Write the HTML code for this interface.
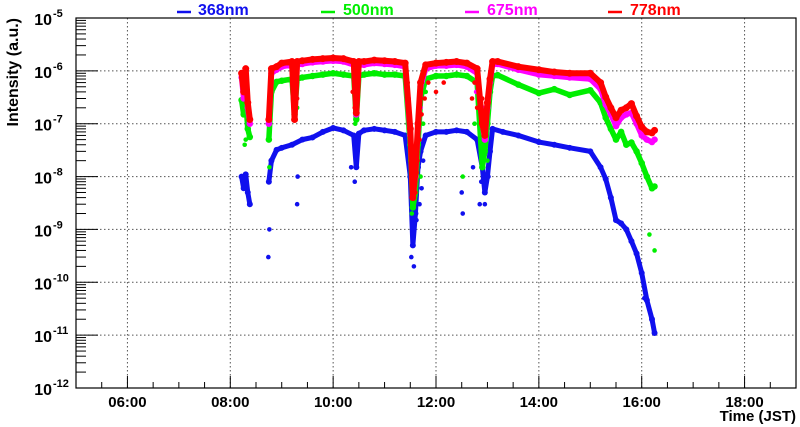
<!DOCTYPE html>
<html><head><meta charset="utf-8"><style>
html,body{margin:0;padding:0;background:#fff;}
svg{display:block;font-family:"Liberation Sans",sans-serif;}
</style></head><body>
<svg id="chart" width="800" height="427" viewBox="0 0 800 427">
<rect x="0" y="0" width="800" height="427" fill="#fff"/>
<g id="grid"></g>
<g id="series"></g>
<g id="axes"></g>
<g id="legend">
  <line x1="177" y1="12" x2="191" y2="12" stroke="#1010ee" stroke-width="2.5"/>
  <text x="198" y="15" fill="#1010ee" font-size="16" font-weight="bold">368nm</text>
  <line x1="321" y1="12" x2="335" y2="12" stroke="#00ee00" stroke-width="2.5"/>
  <text x="343" y="15" fill="#00ee00" font-size="16" font-weight="bold">500nm</text>
  <line x1="465" y1="12" x2="479" y2="12" stroke="#ff00ff" stroke-width="2.5"/>
  <text x="487" y="15" fill="#ff00ff" font-size="16" font-weight="bold">675nm</text>
  <line x1="608" y1="12" x2="622" y2="12" stroke="#ff0000" stroke-width="2.5"/>
  <text x="630" y="15" fill="#ff0000" font-size="16" font-weight="bold">778nm</text>
</g>
</svg>
<script>
// ---- data (time in hours JST, intensity in a.u.) ----
const xTickLabels = ["06:00","08:00","10:00","12:00","14:00","16:00","18:00"];
const xTickHours = [6,8,10,12,14,16,18];
const yTickExps = [-5,-6,-7,-8,-9,-10,-11,-12];

const blueT = [8.22,8.26,8.30,8.34,8.38,null,8.75,8.80,8.90,9.00,9.20,9.40,9.60,9.80,10.0,10.2,10.4,10.45,10.5,10.6,10.8,11.0,11.2,11.4,11.5,11.55,11.6,11.65,11.7,11.8,12.0,12.2,12.4,12.6,12.8,12.9,12.95,13.0,13.05,13.1,13.3,13.6,14.0,14.3,14.6,15.0,15.2,15.3,15.4,15.5,15.6,15.7,15.8,15.9,16.0,16.1,16.2,16.25];
const blueV = [1e-8,6e-9,1.1e-8,5e-9,3e-9,null,8e-9,2e-8,3.2e-8,3.5e-8,4e-8,5e-8,5.5e-8,7e-8,8.3e-8,7.5e-8,6e-8,1.5e-8,6.5e-8,7.5e-8,8e-8,7.5e-8,7e-8,6e-8,1e-8,5e-10,2e-9,1.5e-8,3e-8,6e-8,7e-8,7e-8,7.5e-8,7e-8,5e-8,1.5e-8,5e-9,1e-8,3e-8,8e-8,7e-8,6e-8,4.5e-8,4e-8,3.5e-8,3e-8,1.5e-8,9e-9,4e-9,1.5e-9,1.3e-9,1e-9,6e-10,3.5e-10,1.5e-10,4.6e-11,2e-11,1.1e-11];

const greenT = [8.22,8.26,8.30,8.34,8.38,null,8.75,8.80,8.90,9.00,9.20,9.25,9.30,9.40,9.60,9.80,10.0,10.2,10.4,10.45,10.5,10.6,10.8,11.0,11.2,11.4,11.5,11.55,11.6,11.65,11.7,11.8,12.0,12.2,12.4,12.6,12.8,12.9,12.95,13.0,13.05,13.1,13.2,13.6,14.0,14.3,14.6,15.0,15.2,15.3,15.4,15.5,15.6,15.7,15.8,15.9,16.0,16.1,16.2,16.25];
const greenV = [2.8e-7,1.5e-7,3e-7,8e-8,5.6e-8,null,5e-8,4e-7,6.2e-7,6.5e-7,7e-7,1.5e-7,7e-7,7.5e-7,8e-7,8.5e-7,9e-7,8.5e-7,8e-7,1.2e-7,8e-7,8.5e-7,9e-7,8.5e-7,8.5e-7,8e-7,4e-8,2.6e-9,5e-9,4e-8,3e-7,7e-7,8e-7,8e-7,8.5e-7,8e-7,6e-7,1.5e-8,3e-8,1e-7,4e-7,8e-7,8.3e-7,5.5e-7,3.8e-7,4.5e-7,3.5e-7,4.3e-7,2.5e-7,1.3e-7,8e-8,5e-8,7e-8,4e-8,4.4e-8,3e-8,1.8e-8,1e-8,6e-9,6.5e-9];

const magentaT = [8.22,8.26,8.30,8.34,8.38,null,8.75,8.80,8.90,9.00,9.20,9.25,9.30,9.40,9.60,9.80,10.0,10.2,10.4,10.45,10.5,10.6,10.8,11.0,11.2,11.4,11.5,11.55,11.6,11.65,11.7,11.8,12.0,12.2,12.4,12.6,12.8,12.9,12.95,13.0,13.05,13.1,13.2,13.6,14.0,14.3,14.6,15.0,15.2,15.3,15.4,15.5,15.6,15.7,15.8,15.9,16.0,16.1,16.2,16.25];
const magentaV = [7.5e-7,3e-7,7e-7,2e-7,1e-7,null,1e-7,9e-7,1.05e-6,1.2e-6,1.3e-6,2e-7,1.3e-6,1.35e-6,1.45e-6,1.5e-6,1.55e-6,1.5e-6,1.3e-6,1.5e-7,1.3e-6,1.3e-6,1.4e-6,1.35e-6,1.3e-6,1.2e-6,6e-8,4e-9,1e-8,8e-8,5e-7,1.1e-6,1.25e-6,1.25e-6,1.3e-6,1.2e-6,9e-7,1e-7,5e-8,2e-7,6e-7,1.3e-6,1.35e-6,1.05e-6,8.5e-7,8e-7,7.5e-7,7e-7,4.5e-7,2.3e-7,1.5e-7,9e-8,1.3e-7,1.5e-7,1.6e-7,1e-7,6e-8,5e-8,4.5e-8,5e-8];

const redT = [8.22,8.26,8.30,8.34,8.38,null,8.75,8.80,8.90,9.00,9.20,9.25,9.30,9.40,9.60,9.80,10.0,10.2,10.4,10.45,10.5,10.6,10.8,11.0,11.2,11.4,11.5,11.55,11.6,11.65,11.7,11.8,12.0,12.2,12.4,12.6,12.8,12.9,12.95,13.0,13.05,13.1,13.2,13.6,14.0,14.3,14.6,15.0,15.2,15.3,15.4,15.5,15.6,15.7,15.8,15.9,16.0,16.1,16.2,16.25];
const redV = [9e-7,4e-7,1.1e-6,2.5e-7,1.2e-7,null,1.2e-7,1.1e-6,1.2e-6,1.4e-6,1.5e-6,1.2e-7,1.5e-6,1.55e-6,1.65e-6,1.7e-6,1.75e-6,1.7e-6,1.5e-6,1.6e-7,1.5e-6,1.5e-6,1.6e-6,1.55e-6,1.5e-6,1.4e-6,8e-8,4e-9,1.2e-8,1e-7,6e-7,1.3e-6,1.4e-6,1.45e-6,1.5e-6,1.4e-6,1.1e-6,1e-7,6e-8,2.5e-7,7e-7,1.5e-6,1.5e-6,1.2e-6,1.05e-6,9.5e-7,9e-7,9e-7,6e-7,3.2e-7,2e-7,1.3e-7,1.8e-7,2e-7,2.4e-7,1.4e-7,8.7e-8,7e-8,6.7e-8,7.5e-8];

// scattered outlier points
const blueOutT = [8.74,8.76,9.3,9.31,10.35,10.42,11.52,11.57,11.62,11.68,11.72,11.75,12.5,12.52,12.72,12.85,12.88,12.95,13.02,13.0,16.05];
const blueOutV = [3e-10,1e-9,3e-9,1e-8,1.5e-8,8e-9,3e-10,2e-10,1.5e-9,3e-9,6e-9,2e-8,5e-9,2e-9,1.5e-8,3e-9,8e-9,3e-9,1e-8,4e-8,5e-11];
const greenOutT = [8.28,8.3,8.76,9.3,10.43,11.45,11.5,11.53,11.58,11.62,11.7,11.75,11.8,12.52,12.75,12.82,12.9,13.0,16.15,16.25];
const greenOutV = [4e-8,5e-8,1.5e-8,2e-7,1e-7,1e-7,2e-8,2e-9,8e-9,3e-8,1e-8,1e-7,4e-7,1e-8,1e-7,2e-7,5e-8,2e-8,8e-10,4e-10];
const redOutT = [9.3,10.38,10.42,11.45,11.48,11.52,11.56,11.6,11.64,11.68,11.72,11.78,11.85,12.0,12.15,12.7,12.75,12.8,12.85,12.9,12.98,13.03];
const redOutV = [3e-7,4e-7,2e-7,6e-7,2e-7,3e-8,8e-9,5e-9,2e-8,5e-8,1.5e-7,3e-7,6e-7,4e-7,6e-7,3e-7,6e-7,2e-7,4e-7,3e-7,1.5e-7,4e-7];
const magentaOutT = [11.47,11.55,11.62,11.7,12.78,12.92];
const magentaOutV = [3e-7,1e-8,3e-8,2e-7,4e-7,2e-7];

// ---- axes ----
const L=76,R=796,T=18,B=388;
const xMin=5,xMax=19,logMin=-12,logMax=-5;
function xs(h){return L+(h-xMin)/(xMax-xMin)*(R-L);}
function ys(v){return B-(Math.log10(v)-logMin)/(logMax-logMin)*(B-T);}

const NS="http://www.w3.org/2000/svg";
function mk(tag,attrs,parent){const e=document.createElementNS(NS,tag);for(const k in attrs)e.setAttribute(k,attrs[k]);parent.appendChild(e);return e;}
const grid=document.getElementById('grid'),axes=document.getElementById('axes'),series=document.getElementById('series');

xTickHours.forEach((h,i)=>{
  const g=mk('line',{x1:xs(h),x2:xs(h),y1:T,y2:B,stroke:'#555','stroke-width':1,'stroke-dasharray':'1.5,2.5'},grid);
  
  
});
yTickExps.forEach(e=>{
  if(e===logMin||e===logMax)return;
  const g=mk('line',{x1:L,x2:R,y1:ys(Math.pow(10,e)),y2:ys(Math.pow(10,e)),stroke:'#555','stroke-width':1,'stroke-dasharray':'1.5,2.5'},grid);
  
  
});

function drawSeries(name,color,T_,V_,w){
  const g=mk('g',{},series);
  
  
  let seg=[];
  const segs=[];
  for(let i=0;i<T_.length;i++){
    if(T_[i]===null){if(seg.length)segs.push(seg);seg=[];continue;}
    seg.push([xs(T_[i]),ys(V_[i])]);
  }
  if(seg.length)segs.push(seg);
  segs.forEach(s=>{
    const p=mk('polyline',{points:s.map(q=>q.join(',')).join(' '),fill:'none',stroke:color,'stroke-width':w,'stroke-linejoin':'round','stroke-linecap':'round'},g);
    
    
    s.forEach(q=>{
      const c=mk('circle',{cx:q[0],cy:q[1],r:w/2+0.5,fill:color},g);
      
      
    });
  });
}
function drawOut(name,color,T_,V_){
  for(let i=0;i<T_.length;i++){
    const c=mk('circle',{cx:xs(T_[i]),cy:ys(V_[i]),r:2.3,fill:color},series);
    
    
  }
}
drawSeries('368nm','#1010ee',blueT,blueV,5);
drawOut('368nm','#1010ee',blueOutT,blueOutV);
drawSeries('500nm','#00ee00',greenT,greenV,5.5);
drawOut('500nm','#00ee00',greenOutT,greenOutV);
drawSeries('675nm','#ff00ff',magentaT,magentaV,5.5);
drawOut('675nm','#ff00ff',magentaOutT,magentaOutV);
drawSeries('778nm','#ff0000',redT,redV,6);
drawOut('778nm','#ff0000',redOutT,redOutV);

const fr=mk('rect',{x:L,y:T,width:R-L,height:B-T,fill:'none',stroke:'#000','stroke-width':1.2},axes);



for(let h=5.5;h<19;h+=0.5){
  const major=Math.abs(h-Math.round(h))<1e-6 && Math.round(h)%2===0;
  const t=mk('line',{x1:xs(h),x2:xs(h),y1:B,y2:B-(major?12:6),stroke:'#000','stroke-width':1},axes);
  
  
}
xTickHours.forEach((h,i)=>{
  const t=mk('text',{x:xs(h),y:407,'text-anchor':'middle','font-size':15,'font-weight':'bold',fill:'#000'},axes);
  t.textContent=xTickLabels[i];
  
  
});
for(let e=logMin;e<logMax;e++){
  for(let m=1;m<=9;m++){
    const v=m*Math.pow(10,e);
    const t=mk('line',{x1:L,x2:L+(m===1?22:10),y1:ys(v),y2:ys(v),stroke:'#000','stroke-width':1},axes);
    
    
  }
}
yTickExps.forEach(e=>{
  const t=mk('text',{x:52,y:ys(Math.pow(10,e))+7,'text-anchor':'end','font-size':16,'font-weight':'bold',fill:'#000'},axes);
  t.textContent='10';
  
  
  const s=mk('text',{x:53,y:ys(Math.pow(10,e))-1,'text-anchor':'start','font-size':11,'font-weight':'bold',fill:'#000'},axes);
  s.textContent=String(e);
  
  
});
const xt=mk('text',{x:796,y:421,'text-anchor':'end','font-size':15,'font-weight':'bold',fill:'#000'},axes);
xt.textContent='Time (JST)';


const yt=mk('text',{x:0,y:0,'text-anchor':'end','font-size':16,'font-weight':'bold',fill:'#000',transform:'translate(18,18) rotate(-90)'},axes);
yt.textContent='Intensity (a.u.)';


</script>
</body></html>
